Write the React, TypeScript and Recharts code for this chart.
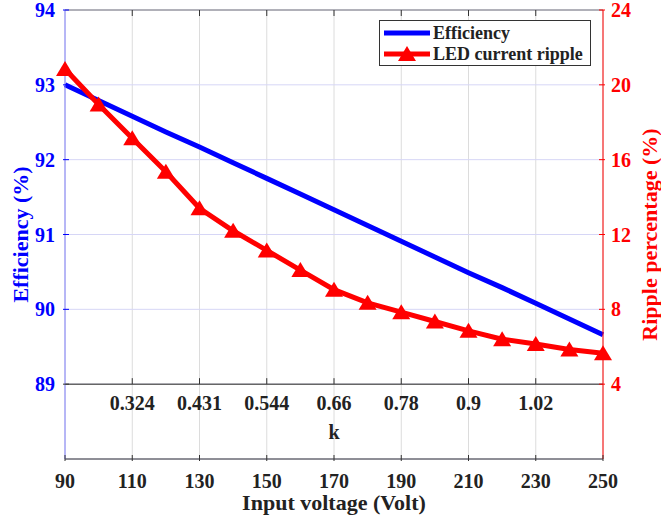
import React from 'react';
import { ComposedChart, Line, XAxis, YAxis, CartesianGrid, ReferenceLine, ReferenceDot } from 'recharts';

const voltage = [90, 100, 110, 120, 130, 140, 150, 160, 170, 180, 190, 200, 210, 220, 230, 240, 250];
const efficiency = [93.0, 92.79, 92.58, 92.37, 92.17, 91.96, 91.75, 91.54, 91.33, 91.12, 90.91, 90.7, 90.49, 90.29, 90.08, 89.87, 89.66];
const ripple = [20.85, 18.95, 17.15, 15.35, 13.4, 12.2, 11.15, 10.1, 9.05, 8.35, 7.85, 7.35, 6.85, 6.4, 6.15, 5.85, 5.65];

const voltageTicks = [90, 110, 130, 150, 170, 190, 210, 230, 250];
const effTicks = [89, 90, 91, 92, 93, 94];
const rippleTicks = [4, 8, 12, 16, 20, 24];
const kTicks = [110, 130, 150, 170, 190, 210, 230];
const kLabels = ['0.324', '0.431', '0.544', '0.66', '0.78', '0.9', '1.02'];

const data = voltage.map((v, i) => ({ v, eff: efficiency[i], ripple: ripple[i] }));

const FONT = '"Liberation Serif", "Times New Roman", serif';
const DARK = '#333333';
const BLUE = '#0000ff';
const RED = '#ff0000';
const TICK_FS = 20;
const LABEL_FS = 22;

const BottomTick = (props: any) => {
  const { x, y, payload } = props;
  return (
    <g>
      <line x1={x} y1={y} x2={x} y2={y - 6} stroke={DARK} strokeWidth={1} />
      <text x={x} y={y + 27} textAnchor="middle" fontFamily={FONT} fontWeight="bold" fontSize={TICK_FS} fill="#222">
        {payload.value}
      </text>
    </g>
  );
};

const LeftTick = (props: any) => {
  const { x, y, payload } = props;
  return (
    <g>
      <line x1={x} y1={y} x2={x + 6} y2={y} stroke={payload.value === 89 ? DARK : BLUE} strokeWidth={1} />
      <text x={x - 8} y={y + 7} textAnchor="end" fontFamily={FONT} fontWeight="bold" fontSize={TICK_FS} fill={BLUE}>
        {payload.value}
      </text>
    </g>
  );
};

const RightTick = (props: any) => {
  const { x, y, payload } = props;
  return (
    <g>
      <line x1={x} y1={y} x2={x - 6} y2={y} stroke={RED} strokeWidth={1} />
      <text x={x + 6} y={y + 7} textAnchor="start" fontFamily={FONT} fontWeight="bold" fontSize={TICK_FS} fill={RED}>
        {payload.value}
      </text>
    </g>
  );
};

const Triangle = (props: any) => {
  const { cx, cy } = props;
  if (cx == null || cy == null) return null;
  return <polygon points={`${cx},${cy - 8} ${cx - 9},${cy + 7} ${cx + 9},${cy + 7}`} fill={RED} />;
};

export default function App() {
  return (
    <div style={{ position: 'absolute', left: 0, top: 0, width: 661, height: 519, background: '#fff' }}>
      <ComposedChart width={661} height={519} data={data} margin={{ top: 10, right: 0, bottom: 0, left: 0 }}>
        <CartesianGrid yAxisId="left" horizontal={false} stroke="#dcdcdc" />
        <CartesianGrid yAxisId="left" vertical={false} stroke="#d6d6f6" />
        <XAxis
          dataKey="v"
          type="number"
          domain={[90, 250]}
          ticks={voltageTicks}
          height={60}
          tickSize={0}
          tickLine={false}
          axisLine={{ stroke: DARK }}
          tick={<BottomTick />}
          interval={0}
          label={(p: any) => {
            const vb = p.viewBox;
            return (
              <text x={vb.x + vb.width / 2} y={vb.y + 51} textAnchor="middle" fontFamily={FONT} fontWeight="bold" fontSize={LABEL_FS} fill="#222">
                Input voltage (Volt)
              </text>
            );
          }}
        />
        <YAxis
          yAxisId="left"
          type="number"
          domain={[88, 94]}
          ticks={effTicks}
          width={65}
          tickSize={0}
          tickLine={false}
          axisLine={{ stroke: '#8080ff' }}
          tick={<LeftTick />}
          interval={0}
          label={(p: any) => {
            const vb = p.viewBox;
            const cx = vb.x + 20;
            const cy = vb.y + vb.height / 2;
            return (
              <text x={cx} y={cy} transform={`rotate(-90 ${cx} ${cy})`} textAnchor="middle" dominantBaseline="central" fontFamily={FONT} fontWeight="bold" fontSize={LABEL_FS} fill={BLUE}>
                Efficiency (%)
              </text>
            );
          }}
        />
        <YAxis
          yAxisId="right"
          orientation="right"
          type="number"
          domain={[0, 24]}
          ticks={rippleTicks}
          width={58}
          tickSize={0}
          tickLine={false}
          axisLine={{ stroke: RED }}
          tick={<RightTick />}
          interval={0}
          label={(p: any) => {
            const vb = p.viewBox;
            const cx = vb.x + 46;
            const cy = vb.y + vb.height / 2;
            return (
              <text x={cx} y={cy} transform={`rotate(-90 ${cx} ${cy})`} textAnchor="middle" dominantBaseline="central" fontFamily={FONT} fontWeight="bold" fontSize={LABEL_FS} fill={RED}>
                Ripple percentage (%)
              </text>
            );
          }}
        />
        <ReferenceLine yAxisId="left" y={94} stroke="#777" strokeWidth={1} />
        <ReferenceLine
          yAxisId="left"
          y={89}
          stroke="#666"
          strokeWidth={1.5}
          label={(p: any) => {
            const vb = p.viewBox;
            return (
              <text x={vb.x + vb.width / 2} y={vb.y + 55} textAnchor="middle" fontFamily={FONT} fontWeight="bold" fontSize={TICK_FS} fill="#222">
                k
              </text>
            );
          }}
        />
        {kTicks.map((t, i) => (
          <ReferenceDot
            key={'k' + t}
            yAxisId="left"
            x={t}
            y={89}
            shape={(p: any) => (
              <g>
                <line x1={p.cx} y1={p.cy} x2={p.cx} y2={p.cy - 6} stroke={DARK} strokeWidth={1} />
                <text x={p.cx} y={p.cy + 26} textAnchor="middle" fontFamily={FONT} fontWeight="bold" fontSize={TICK_FS} fill="#222">
                  {kLabels[i]}
                </text>
              </g>
            )}
          />
        ))}
        {voltageTicks.slice(1, -1).map((t) => (
          <ReferenceDot
            key={'top' + t}
            yAxisId="left"
            x={t}
            y={94}
            shape={(p: any) => <line x1={p.cx} y1={p.cy} x2={p.cx} y2={p.cy + 6} stroke={DARK} strokeWidth={1} />}
          />
        ))}
        <Line yAxisId="left" dataKey="eff" stroke={BLUE} strokeWidth={5} dot={false} isAnimationActive={false} />
        <Line yAxisId="right" dataKey="ripple" stroke={RED} strokeWidth={5} dot={<Triangle />} activeDot={false} isAnimationActive={false} />
      </ComposedChart>
      <div
        style={{
          position: 'absolute',
          left: 379,
          top: 20,
          width: 210,
          height: 44,
          border: '1px solid #333',
          background: '#fff',
          fontFamily: FONT,
          fontWeight: 'bold',
          fontSize: 18,
          color: '#222',
        }}
      >
        <div style={{ position: 'absolute', left: 4, top: 2, display: 'flex', alignItems: 'center', height: 20 }}>
          <svg width={46} height={20}>
            <line x1={0} y1={10} x2={46} y2={10} stroke={BLUE} strokeWidth={5} />
          </svg>
          <span style={{ marginLeft: 3 }}>Efficiency</span>
        </div>
        <div style={{ position: 'absolute', left: 4, top: 23, display: 'flex', alignItems: 'center', height: 20 }}>
          <svg width={46} height={20}>
            <line x1={0} y1={10} x2={46} y2={10} stroke={RED} strokeWidth={5} />
            <polygon points="23,2 14,17 32,17" fill={RED} />
          </svg>
          <span style={{ marginLeft: 3 }}>LED current ripple</span>
        </div>
      </div>
    </div>
  );
}
